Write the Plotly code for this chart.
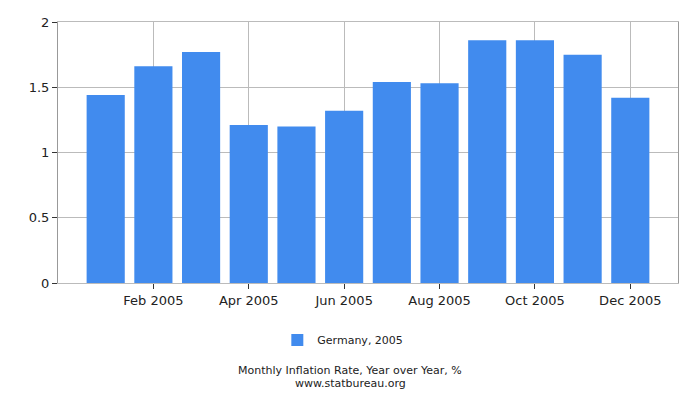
import plotly.graph_objects as go

months = ["Jan 2005", "Feb 2005", "Mar 2005", "Apr 2005", "May 2005", "Jun 2005",
          "Jul 2005", "Aug 2005", "Sep 2005", "Oct 2005", "Nov 2005", "Dec 2005"]
values = [1.44, 1.66, 1.77, 1.21, 1.20, 1.32, 1.54, 1.53, 1.86, 1.86, 1.75, 1.42]
tick_labels = ["Feb 2005", "Apr 2005", "Jun 2005", "Aug 2005", "Oct 2005", "Dec 2005"]
series_name = "Germany, 2005"
title = "Monthly Inflation Rate, Year over Year, %"
source = "www.statbureau.org"

FONT = "DejaVu Sans, Verdana, sans-serif"

x_idx = list(range(len(months)))
tick_idx = [months.index(t) for t in tick_labels]

# page body has an 8px margin; figure coords = picture coords - 8
OFF = 8
L, T, R, B = 57.5 - OFF, 22 - OFF, 700 - (678 - OFF), 400 - (283 - OFF)
plot_h = 400 - T - B
plot_w = 700 - L - R

def py(pix):
    return (400 - B - (pix - OFF)) / plot_h

def px(pix):
    return ((pix - OFF) - L) / plot_w

fig = go.Figure()
fig.add_trace(go.Bar(
    x=x_idx, y=values, name=series_name,
    marker=dict(color="#418BEE", line=dict(width=0)),
    width=0.8,
    hovertext=months,
))

fig.update_layout(
    width=700, height=400,
    margin=dict(l=L, r=R, t=T, b=B, autoexpand=False),
    paper_bgcolor="white", plot_bgcolor="white",
    font=dict(family=FONT, size=13, color="#222"),
    showlegend=True,
    legend=dict(orientation="h", x=px(277), xanchor="left", y=py(340), yanchor="middle",
                itemwidth=30,
                font=dict(family=FONT, size=11, color="#222")),
    xaxis=dict(
        range=[-1, 12],
        tickvals=tick_idx, ticktext=tick_labels,
        showgrid=True, gridcolor="#BBBBBB", gridwidth=1,
        ticks="outside", ticklen=5, tickcolor="#333",
        showline=True, linecolor="#BBBBBB", linewidth=1, mirror=True,
        tickfont=dict(family=FONT, size=13, color="#222"),
        zeroline=False,
    ),
    yaxis=dict(
        range=[0, 2], tickvals=[0, 0.5, 1, 1.5, 2], ticktext=["0", "0.5", "1", "1.5", "2"],
        showgrid=True, gridcolor="#BBBBBB", gridwidth=1,
        ticks="outside", ticklen=5, tickcolor="#333",
        showline=True, linecolor="#999999", linewidth=1, mirror=True,
        tickfont=dict(family=FONT, size=13, color="#222"),
        zeroline=False,
    ),
)

fig.add_annotation(text=title, x=px(350), xref="paper", y=py(370), yref="paper",
                   showarrow=False, yanchor="middle", borderpad=0,
                   font=dict(family=FONT, size=11, color="#222"))
fig.add_annotation(text=source, x=px(350), xref="paper", y=py(383), yref="paper",
                   showarrow=False, yanchor="middle", borderpad=0,
                   font=dict(family=FONT, size=11, color="#222"))

fig.write_html("out.html")
